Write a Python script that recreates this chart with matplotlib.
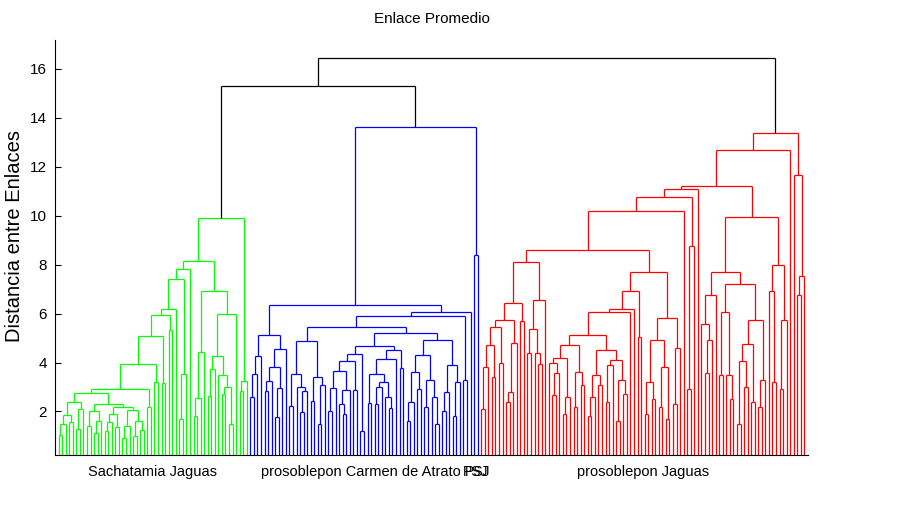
import re
import matplotlib
matplotlib.use("Agg")
import matplotlib.pyplot as plt

# --- linkage tree, written as nested (child,child)height groups; x = leaf ---
green_bush_a = "((((x,x)1.03,x)1.48,(x,x)1.56)1.85,((x,x)1.3,x)2.11)2.37"
green_bush_b = ("(((x,x)1.4,((x,x)1.1,x)1.6)2.0,((((x,x)1.2,x)1.55,(x,x)1.35)1.9,"
                "(((x,x)0.9,x)1.4,((x,x)1.0,(x,x)1.25)1.6)2.05)2.2)2.31")
green_low = f"(({green_bush_a},{green_bush_b})2.75,(x,x)2.19)2.92"
green_chain = f"(((({green_low},(x,x)3.19)3.93,(x,x)3.18)5.10,(x,x)5.32)5.96,x)6.18"
green_a = f"(({green_chain},((x,x)1.71,x)3.55)7.41,x)7.81"
green_b1 = "(((x,x)1.81,x)2.56,x)4.42"
green_b2 = "((((x,x)2.62,x)3.74,(x,((x,x)2.7,(x,x)1.5)3.0)3.47)4.27,x)6.0"
green = f"(({green_a},({green_b1},{green_b2})6.92)8.15,((x,x)2.84,x)3.24)9.92"

blue_a = "((((x,x)2.57,x)3.51,x)4.26,((((x,x)2.83,x)3.25,((x,x)1.76,x)2.97)3.8,x)4.57)5.11"
blue_b = "(((x,x)2.22,(x,((x,x)1.96,x)2.83)3.0)3.52,((x,x)2.43,((x,x)1.5,x)3.1)3.41)4.87"
blue_c = "(((((x,x)2.0,x)2.94,((x,(x,x)1.9)2.3,x)2.87)3.66,(x,x)2.87)4.07,(x,x)1.2)4.34"
blue_d = "((((x,x)2.33,(((x,x)2.31,x)3.0,(x,(x,x)2.15)2.57)3.21)3.52,x)4.16,(x,x)3.76)4.5"
blue_e = ("(((((x,x)1.6,x)2.4,(x,x)2.9)3.6,((x,x)2.2,(x,(x,x)1.5)2.6)3.3)4.3,"
          "(((x,x)2.0,x)2.8,((x,x)1.8,x)3.2)3.9)4.91")
blue_mid = f"(({blue_c},{blue_d})4.67,{blue_e})5.22"
blue_r = f"((({blue_b},{blue_mid})5.45,(x,x)3.3)5.89,x)6.07"
blue = f"(({blue_a},{blue_r})6.34,(x,x)8.4)13.64"

red_a = "((((x,x)2.12,x)3.82,(x,x)3.41)4.71,(x,x)3.98)5.45"
red_b = f"(({red_a},(((x,x)2.37,x)2.8,x)4.78)5.75,(x,x)5.7)6.43"
red_c = "(((x,x)4.39,(x,(x,x)3.92)4.39)5.35,x)6.57"
red_d = "(((x,((x,x)2.69,x)3.58)3.96,((x,x)1.9,x)2.6)4.2,((x,x)2.2,(x,x)3.1)3.6)4.71"
red_e = "((((x,x)1.8,x)2.6,(x,x)3.1)3.5,(((x,x)2.4,x)3.9,((x,x)1.6,(x,x)2.7)3.3)4.1)4.5"
red_f = f"(((({red_d},{red_e})5.11,x)6.07,x)6.18,(x,x)5.05)6.91"
red_g = "((((x,x)1.9,(x,x)2.5)3.2,((x,x)2.2,(x,x)1.7)3.8)4.94,((x,x)2.3,x)4.6)5.8"
red_h = f"(({red_b},{red_c})8.11,({red_f},{red_g})7.7)8.58"
red_left = f"((({red_h},x)10.19,((x,x)2.9,x)8.76)10.76,x)11.1"
red_i = ("(((x,((x,x)3.58,x)4.94)5.56,x)6.75,(((x,x)3.48,(x,(x,x)2.5)3.48)6.07,"
         "((((x,x)1.5,(x,x)3.0)4.06,(x,x)2.4)4.77,((x,x)2.2,x)3.3)5.73)7.2)7.7")
red_j = "((x,(x,x)3.2)6.91,((x,x)2.9,x)5.73)7.97"
red = f"((({red_left},({red_i},{red_j})9.94)11.21,x)12.67,(x,((x,x)6.75,x)7.53)11.67)13.37"

join_heights = [15.32, 16.45]
cluster_colors = ["#00ff00", "#0000ff", "#ff0000"]
group_labels = ["Sachatamia Jaguas", "prosoblepon Carmen de Atrato", "prosoblepon Jaguas"]
odd_label = "PSJ"


def parse(s):
    pos = 0

    def node():
        nonlocal pos
        if s[pos] == "x":
            pos += 1
            return None
        pos += 1
        kids = [node()]
        while s[pos] == ",":
            pos += 1
            kids.append(node())
        pos += 1
        m = re.match(r"\d+(\.\d+)?", s[pos:])
        pos += m.end()
        return (kids, float(m.group()))

    return node()


def n_leaves(nd):
    return 1 if nd is None else sum(n_leaves(k) for k in nd[0])


clusters = [parse(green), parse(blue), parse(red)]
tree = ([([clusters[0], clusters[1]], join_heights[0]), clusters[2]], join_heights[1])
n = n_leaves(tree)

plt.rcParams["font.family"] = ["Liberation Sans", "DejaVu Sans"]

fig = plt.figure(figsize=(8.98, 5.09), dpi=100)
ax = fig.add_axes([55 / 898, 1 - 455 / 509, 753 / 898, 415 / 509])

counter = [0]
lw = 0.9
child_color = {id(c): col for c, col in zip(clusters, cluster_colors)}


def draw(nd, color):
    # leaves are numbered left to right; a node sits midway over its children
    if nd is None:
        counter[0] += 1
        return counter[0], 0.0
    kids, h = nd
    pts = [draw(k, child_color.get(id(k), color)) for k in kids]
    xs = [p[0] for p in pts]
    for x, hh in pts:
        ax.plot([x, x], [hh, h], color=color, lw=lw, solid_capstyle="butt")
    ax.plot([min(xs), max(xs)], [h, h], color=color, lw=lw, solid_capstyle="butt")
    return sum(xs) / len(xs), h


draw(tree, "k")

# leaf ranges of each cluster, used to centre the group labels
ranges = []
acc = 0
for c in clusters:
    ranges.append((acc + 1, acc + n_leaves(c)))
    acc += n_leaves(c)
last_blue = ranges[1][1]
# the blue label is centred on the leaves left of the PSJ pair
ranges[1] = (ranges[1][0], last_blue - 2)
centers = [(a + b) / 2 for a, b in ranges]

ax.set_xlim(0, n + 1)
ax.set_ylim(0.22, 17.18)
ax.set_yticks(range(2, 17, 2))
ax.tick_params(axis="y", direction="in", length=4, labelsize=11, pad=6)
ax.set_xticks(centers)
ax.set_xticklabels(group_labels, fontsize=10.5)
ax.tick_params(axis="x", length=0, pad=7)
# the last two blue leaves carry the same short label, drawn on top of each other
for lx in (last_blue - 0.6, last_blue):
    ax.annotate(odd_label, xy=(lx, 0), xycoords=("data", "axes fraction"),
                xytext=(0, -7), textcoords="offset points",
                ha="center", va="top", fontsize=10)
for side in ("top", "right"):
    ax.spines[side].set_visible(False)
ax.set_title("Enlace Promedio", fontsize=11, pad=12)
fig.text(15 / 898, 1 - 236 / 509, "Distancia entre Enlaces", rotation=90,
         ha="center", va="center", fontsize=14.5)

fig.savefig("out.png", dpi=100)
